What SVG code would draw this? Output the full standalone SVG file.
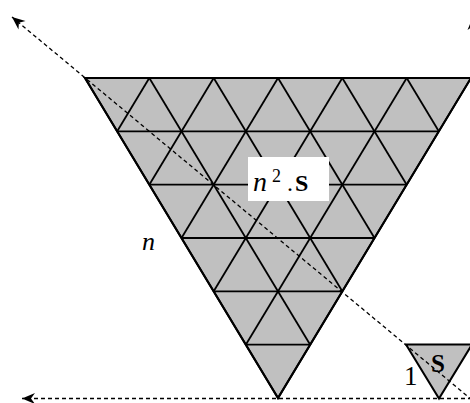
<svg xmlns="http://www.w3.org/2000/svg" width="470" height="403" viewBox="0 0 470 403">
<style>
.tri{fill:#c0c0c0;stroke:#000;stroke-width:2;stroke-linejoin:miter}
.grid{fill:none;stroke:#000;stroke-width:1.8}
.dash{fill:none;stroke:#000;stroke-width:1.3;stroke-dasharray:4 3}
.t{font-family:"Liberation Serif","Times New Roman",serif;fill:#000}
</style>
<defs>
<marker id="arr" markerUnits="userSpaceOnUse" markerWidth="16" markerHeight="14" viewBox="-14 -7 16 14" refX="0" refY="0" orient="auto">
<path d="M0,0 L-13,-5.5 L-9,0 L-13,5.5 Z" fill="#000"/>
</marker>
</defs>
<g id="big-triangle">
<polygon class="tri" points="85,78 471,78 278,398"/>
<g class="grid">
<line x1="117.2" y1="131.3" x2="438.8" y2="131.3"/>
<line x1="149.3" y1="184.7" x2="406.7" y2="184.7"/>
<line x1="181.5" y1="238" x2="374.5" y2="238"/>
<line x1="213.7" y1="291.3" x2="342.3" y2="291.3"/>
<line x1="245.8" y1="344.7" x2="310.2" y2="344.7"/>
<line x1="149.3" y1="78" x2="310.2" y2="344.7"/>
<line x1="213.7" y1="78" x2="342.3" y2="291.3"/>
<line x1="278" y1="78" x2="374.5" y2="238"/>
<line x1="342.3" y1="78" x2="406.7" y2="184.7"/>
<line x1="406.7" y1="78" x2="438.8" y2="131.3"/>
<line x1="149.3" y1="78" x2="117.2" y2="131.3"/>
<line x1="213.7" y1="78" x2="149.3" y2="184.7"/>
<line x1="278" y1="78" x2="181.5" y2="238"/>
<line x1="342.3" y1="78" x2="213.7" y2="291.3"/>
<line x1="406.7" y1="78" x2="245.8" y2="344.7"/>
</g>
<polygon points="85,78 471,78 278,398" fill="none" stroke="#000" stroke-width="2"/>
</g>
<g id="small-triangle">
<polygon class="tri" points="406,344.5 472,344.5 439,398.5"/>
</g>
<g id="connectors">
<line class="dash" x1="472" y1="400" x2="12" y2="17" marker-end="url(#arr)"/>
<line class="dash" x1="472" y1="398.5" x2="22" y2="398.5" marker-end="url(#arr)"/>
<line class="dash" x1="473" y1="398" x2="473" y2="17" marker-end="url(#arr)"/>
</g>
<g id="labels">
<rect x="248" y="157" width="81" height="44" fill="#fff"/>
<text class="t" y="191" font-size="28"><tspan x="253" font-style="italic">n</tspan><tspan x="272" y="182" font-size="18">2</tspan><tspan x="287" y="191" font-size="24">.</tspan><tspan x="295" y="191" font-size="24" font-weight="bold">S</tspan></text>
<text class="t" x="142" y="250" font-size="26" font-style="italic">n</text>
<text class="t" x="431" y="372" font-size="25" font-weight="bold">S</text>
<text class="t" x="404" y="385" font-size="27">1</text>
</g>
</svg>
